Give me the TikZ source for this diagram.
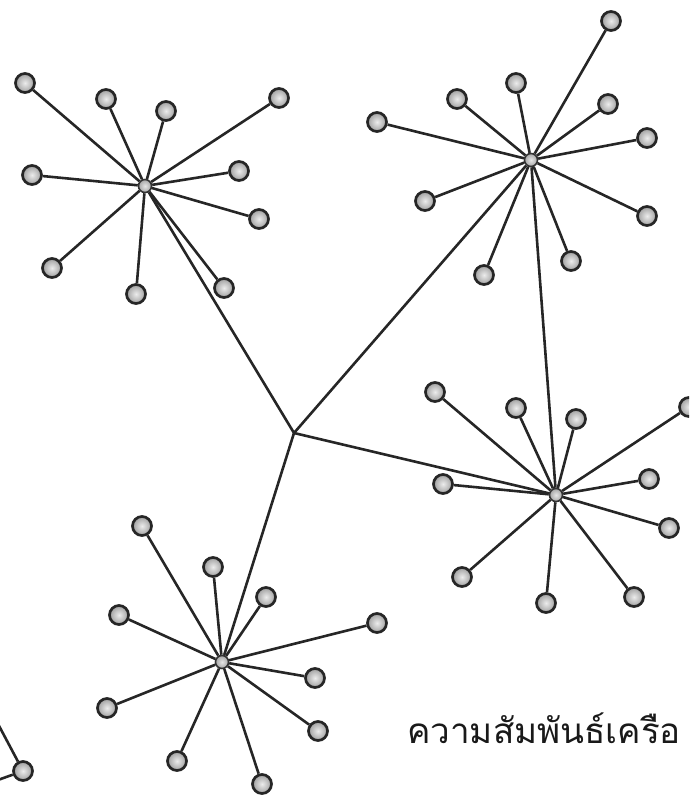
\documentclass[tikz,border=0pt]{standalone}
\usepackage{fontspec}
\newfontfamily\thaifont[Script=Thai]{Loma}
\begin{document}
\begin{tikzpicture}[x=1pt,y=-1pt,
  leaf/.style={circle,inner sep=0pt,minimum size=19pt,draw=black!85,line width=2.7pt,
    inner color=gray!15,outer color=gray!75},
  hub/.style={circle,inner sep=0pt,minimum size=13pt,draw=black!80,line width=1.6pt,
    inner color=gray!20,outer color=gray!70},
  link/.style={draw=black!85,line width=2.6pt},
  lbl/.style={font=\thaifont\fontsize{35}{40}\selectfont,anchor=base west,inner sep=0pt,text=black!90}]
\useasboundingbox (0,0) rectangle (689,795);
\clip (0,0) rectangle (689,795);
% junction
\coordinate (J) at (294,433);
% hubs
\node[hub] (h1) at (145,186) {};
\node[hub] (h2) at (531,160) {};
\node[hub] (h3) at (556,495) {};
\node[hub] (h4) at (222,662) {};
% cluster 1
\foreach \n/\p in {a/{(25,83)},b/{(106,99)},c/{(166,111)},d/{(279,98)},e/{(32,175)},
  f/{(239,171)},g/{(259,219)},h/{(52,268)},i/{(136,294)},j/{(224,288)}}{
  \node[leaf] (c1\n) at \p {};
  \draw[link] (h1) -- (c1\n);
}
% cluster 2
\foreach \n/\p in {a/{(611,21)},b/{(516,83)},c/{(457,99)},d/{(377,122)},e/{(608,104)},
  f/{(647,138)},g/{(647,216)},h/{(425,201)},i/{(484,275)},j/{(571,261)}}{
  \node[leaf] (c2\n) at \p {};
  \draw[link] (h2) -- (c2\n);
}
% cluster 3
\foreach \n/\p in {a/{(435,392)},b/{(516,408)},c/{(576,419)},d/{(689,407)},e/{(443,484)},
  f/{(649,479)},g/{(669,528)},h/{(462,577)},i/{(546,603)},j/{(634,597)}}{
  \node[leaf] (c3\n) at \p {};
  \draw[link] (h3) -- (c3\n);
}
% cluster 4
\foreach \n/\p in {a/{(142,526)},b/{(213,567)},c/{(266,597)},d/{(377,623)},e/{(119,615)},
  f/{(315,678)},g/{(107,708)},h/{(318,731)},i/{(177,761)},j/{(262,784)}}{
  \node[leaf] (c4\n) at \p {};
  \draw[link] (h4) -- (c4\n);
}
% partial cluster bottom left
\node[leaf] (c5a) at (23,771) {};
\coordinate (o1) at (-20,690);
\coordinate (o2) at (-30,790);
\draw[link] (c5a) -- (o1);
\draw[link] (c5a) -- (o2);
% backbone
\draw[link] (J) -- (h1);
\draw[link] (J) -- (h2);
\draw[link] (J) -- (h3);
\draw[link] (J) -- (h4);
\draw[link] (h2) -- (h3);
% caption
\node[lbl] (cap) at (407,743) {ความสัมพันธ์เครือ};
\end{tikzpicture}
\end{document}
